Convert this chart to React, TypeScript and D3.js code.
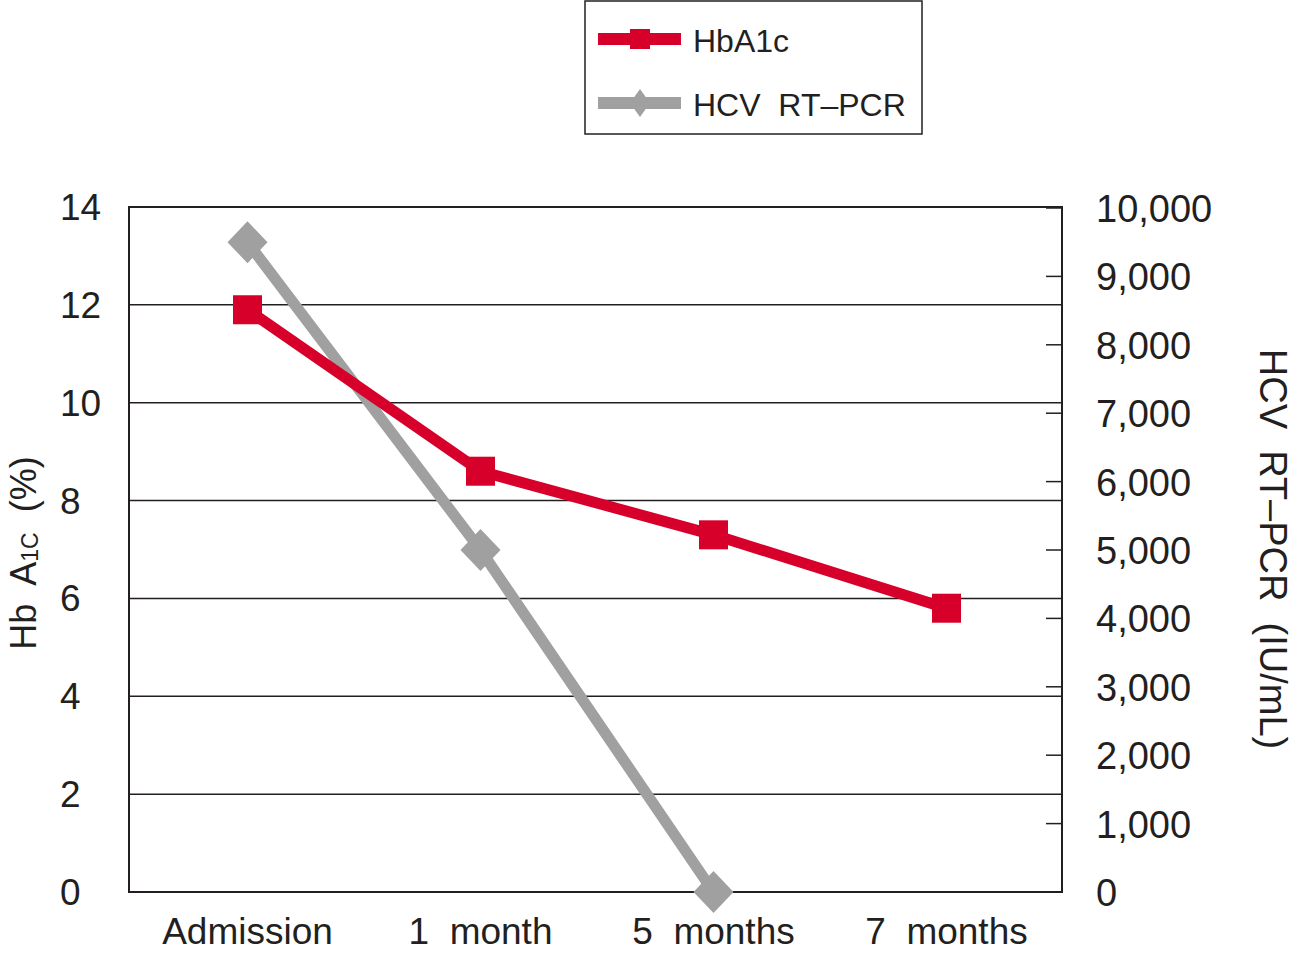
import * as React from "react";
import * as d3 from "d3";

// chart data
const visits = ["Admission", "1 month", "5 months", "7 months"];
const hba1c = [11.9, 8.6, 7.3, 5.8];
const hcvVisits = ["Admission", "1 month", "5 months"];
const hcvLoad = [9500, 5000, 0];
const leftTicks = [0, 2, 4, 6, 8, 10, 12, 14];
const rightTicks = [0, 1000, 2000, 3000, 4000, 5000, 6000, 7000, 8000, 9000, 10000];

const RED = "#d6002a";
const GREY = "#a0a0a0";
const FONT = "'Liberation Sans', Arial, sans-serif";

export default function App() {
    const width = 1294;
    const height = 954;
    const left = 129, right = 1062, top = 207, bottom = 892;

    const x = d3.scalePoint<string>().domain(visits).range([131, 1063]).padding(0.5);
    const yL = d3.scaleLinear().domain([0, 14]).range([bottom, top]);
    const yR = d3.scaleLinear().domain([0, 10000]).range([bottom, bottom - 684]);

    const redLine = d3.line<number>().x((d, i) => x(visits[i])!).y(d => yL(d));
    const greyLine = d3.line<number>().x((d, i) => x(hcvVisits[i])!).y(d => yR(d));

    const fmt = d3.format(",");

    return (
        <svg width={width} height={height} style={{ position: "absolute", left: 0, top: 0, background: "#fff" }} fontFamily={FONT}>
            {/* legend */}
            <g>
                <rect x={585} y={1} width={337} height={133} fill="#fff" stroke="#231f20" strokeWidth={1.5} />
                <line x1={598} x2={681} y1={39} y2={39} stroke={RED} strokeWidth={12} />
                <rect x={630} y={29} width={20} height={20} fill={RED} />
                <text x={693} y={52} fontSize={32} fill="#231f20">HbA1c</text>
                <line x1={598} x2={681} y1={103} y2={103} stroke={GREY} strokeWidth={12} />
                <path d="M640,89 L650,103 L640,117 L630,103 Z" fill={GREY} />
                <text x={693} y={116} fontSize={32} fill="#231f20" style={{ whiteSpace: "pre" }}>HCV  RT–PCR</text>
            </g>

            {/* gridlines */}
            {leftTicks.slice(1, -1).map(t => (
                <line key={"g" + t} x1={left} x2={right} y1={yL(t)} y2={yL(t)} stroke="#231f20" strokeWidth={1.5} />
            ))}
            {/* right axis ticks (inward) */}
            {rightTicks.map(t => (
                <line key={"r" + t} x1={right - 16} x2={right} y1={yR(t)} y2={yR(t)} stroke="#231f20" strokeWidth={1.5} />
            ))}
            <rect x={left} y={top} width={right - left} height={bottom - top} fill="none" stroke="#231f20" strokeWidth={2} />

            {/* left ticks */}
            {leftTicks.map(t => (
                <text key={"l" + t} x={60} y={yL(t) + 13} fontSize={37} fill="#231f20">{t}</text>
            ))}
            {/* right ticks labels */}
            {rightTicks.map(t => (
                <text key={"rl" + t} x={1096} y={yR(t) + 14} fontSize={38} fill="#231f20">{fmt(t)}</text>
            ))}
            {/* x labels */}
            {visits.map(v => (
                <text key={v} x={x(v)} y={944} fontSize={37} textAnchor="middle" fill="#231f20" style={{ whiteSpace: "pre" }}>{v.replace(" ", "  ")}</text>
            ))}

            {/* axis titles */}
            <text transform="translate(36,553) rotate(-90)" textAnchor="middle" fontSize={36} fill="#231f20" style={{ whiteSpace: "pre" }}>
                Hb  A<tspan fontSize={23} dy={2}>1C</tspan><tspan dy={-2}>  (%)</tspan>
            </text>
            <text transform="translate(1260,549) rotate(90)" textAnchor="middle" fontSize={38} fill="#231f20" style={{ whiteSpace: "pre" }}>
                HCV  RT–PCR  (IU/mL)
            </text>

            {/* series */}
            <path d={greyLine(hcvLoad)!} fill="none" stroke={GREY} strokeWidth={11} />
            {hcvLoad.map((v, i) => {
                const cx = x(hcvVisits[i])!, cy = yR(v);
                return <path key={"d" + i} d={`M${cx},${cy - 21} L${cx + 20},${cy} L${cx},${cy + 21} L${cx - 20},${cy} Z`} fill={GREY} />;
            })}
            <path d={redLine(hba1c)!} fill="none" stroke={RED} strokeWidth={11} />
            {hba1c.map((v, i) => (
                <rect key={"s" + i} x={x(visits[i])! - 14.5} y={yL(v) - 14.5} width={29} height={29} fill={RED} />
            ))}
        </svg>
    );
}
